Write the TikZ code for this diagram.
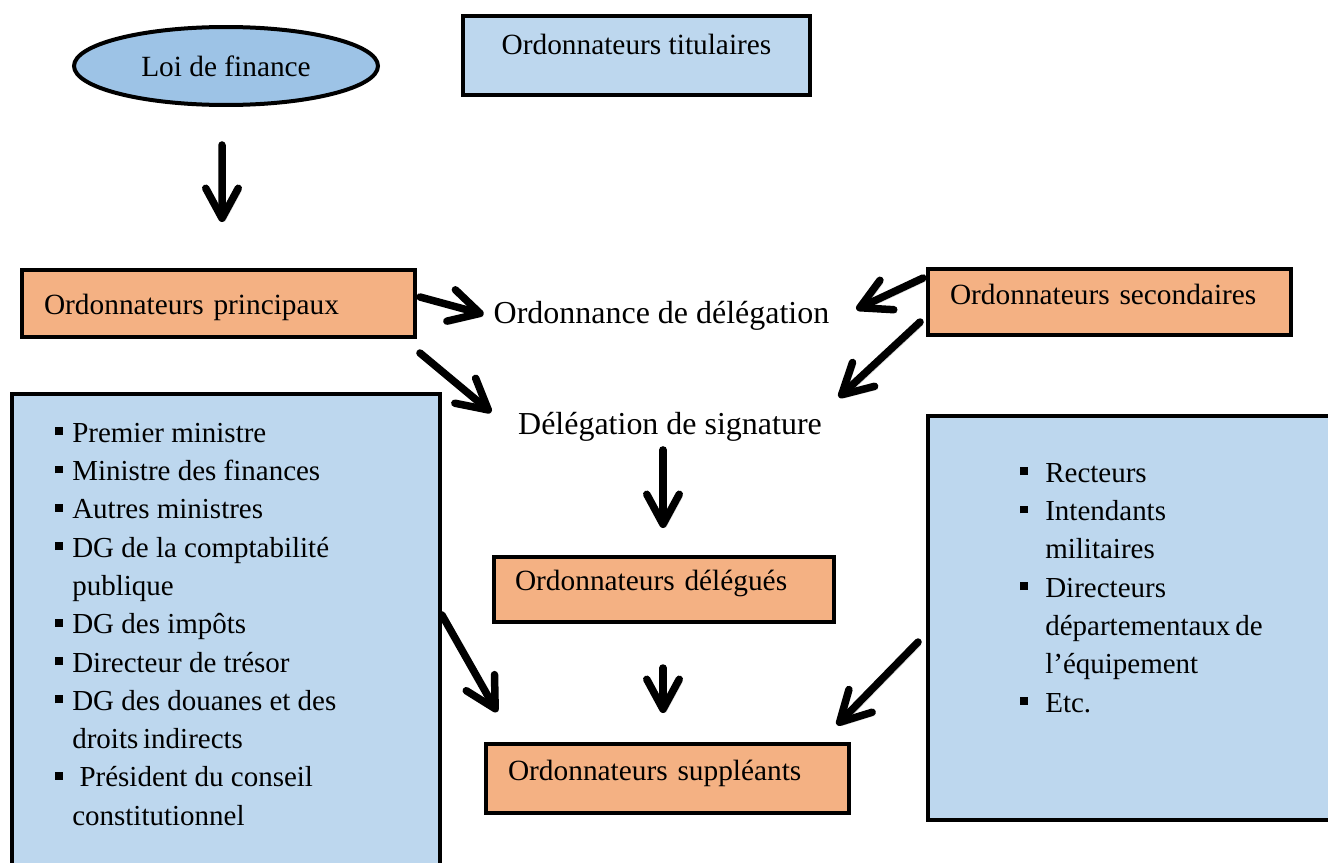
\documentclass[tikz,border=0pt]{standalone}
\usepackage{fontspec}
\setmainfont{Liberation Serif}
\usepackage{xcolor}
\usetikzlibrary{arrows.meta, positioning, shapes.geometric, calc}

\definecolor{bleuclair}{RGB}{189,215,238}
\definecolor{bleuloi}{RGB}{157,195,230}
\definecolor{saumon}{RGB}{244,177,131}
\newcommand{\puce}{\rule[4pt]{4.5pt}{4.5pt}}

\begin{document}
\begin{tikzpicture}[
  x=0.02cm, y=-0.02cm,
  boite/.style={rectangle, draw, line width=0.08cm, outer sep=0pt, inner ysep=0pt, inner xsep=0.44cm, font=\fontsize{16.7}{19}\selectfont},
  boiteorange/.style={boite, fill=saumon, align=left},
  liste/.style={inner sep=0pt, anchor=north west, font=\fontsize{16.5}{21.8}\selectfont},
  etiquette/.style={inner sep=0pt, outer sep=0pt, anchor=base, font=\fontsize{18.2}{21}\selectfont},
  fleche/.style={line width=0.15cm, line cap=round, -{Straight Barb[length=0.6cm, width=0.65cm, round]},
    preaction={draw=black!15, transform canvas={xshift=1.6pt, yshift=-1.8pt}}},
]
  \useasboundingbox (0,0) rectangle (1328,862);

  \node[ellipse, draw, line width=0.08cm, fill=bleuloi, outer sep=0pt, inner sep=0pt, minimum width=6.08cm, minimum height=1.56cm, font=\fontsize{16.7}{19}\selectfont] (loi) at (226,66) {Loi de finance};
  \node[boite, fill=bleuclair, minimum width=6.94cm, minimum height=1.58cm, text height=0.4cm, text depth=0.46cm] (tit) at (636.5,55.5) {Ordonnateurs titulaires};

  \node[boiteorange, text width=6.98cm, minimum height=1.34cm, text height=0.5cm, text depth=0.08cm] (prin) at (218.5,303.5) {Ordonnateurs principaux};
  \node[boiteorange, text width=6.38cm, minimum height=1.32cm, text height=0.4cm, text depth=0.32cm] (sec) at (1109.5,302) {Ordonnateurs secondaires};
  \node[etiquette] (ord) at (661.5,323) {Ordonnance de délégation};
  \node[etiquette] (sig) at (670,434) {Délégation de signature};

  \node[boiteorange, inner xsep=0.42cm, text width=5.96cm, minimum height=1.3cm, text height=0.4cm, text depth=0.38cm] (del) at (664,589.5) {Ordonnateurs délégués};
  \node[boiteorange, text width=6.38cm, minimum height=1.38cm, text height=0.4cm, text depth=0.34cm] (sup) at (667.5,778.5) {Ordonnateurs suppléants};

  % les deux listes
  \node[boite, fill=bleuclair, minimum width=8.56cm, minimum height=10.12cm] (gauche) at (226,647) {};
  \node[boite, fill=bleuclair, minimum width=8.64cm, minimum height=8.08cm] (droite) at (1144,618) {};

  \node[liste] (ministres) at ($(gauche.north west)+(43,21)$) {%
    \begin{tabular}{@{}l@{\hspace{0.18cm}}l@{}}
      \puce & Premier ministre\\
      \puce & Ministre des finances\\
      \puce & Autres ministres\\
      \puce & DG de la comptabilité\\
            & publique\\
      \puce & DG des impôts\\
      \puce & Directeur de trésor\\
      \puce & DG des douanes et des\\
            & droits\,indirects\\
      \puce & \ Président du conseil\\
            & constitutionnel
    \end{tabular}};
  \node[liste] (services) at ($(droite.north west)+(92,39)$) {%
    \begin{tabular}{@{}l@{\hspace{0.34cm}}l@{}}
      \puce & Recteurs\\
      \puce & Intendants\\
            & militaires\\
      \puce & Directeurs\\
            & départementaux\,de\\
            & l’équipement\\
      \puce & Etc.
    \end{tabular}};

  \draw[fleche] ($(loi.south)+(-4,40)$) -- ($(prin.north)+(3.5,-48)$);
  \draw[fleche] ($(prin.east)+(5,-6.5)$) -- ($(ord.west)+(-10,-1)$);
  \draw[fleche] ($(prin.south east)+(5,16)$) -- ($(sig.west)+(-27,-14)$);
  \draw[fleche] ($(sec.north west)+(-5,9)$) -- ($(ord.east)+(27,-6)$);
  \draw[fleche] ($(sec.south west)+(-8,-13)$) -- ($(sig.east)+(17,-29)$);
  \draw[fleche] ($(sig.south)+(-7,9)$) -- ($(del.north)+(-1,-29)$);
  \draw[fleche] ($(del.south)+(-1,46)$) -- ($(sup.north)+(-4.5,-31)$);
  \draw[fleche] ($(gauche.east)+(2,-32)$) -- ($(sup.north west)+(11,-32)$);
  \draw[fleche] ($(droite.west)+(-10,24)$) -- ($(sup.north east)+(-12,-19)$);
\end{tikzpicture}
\end{document}
